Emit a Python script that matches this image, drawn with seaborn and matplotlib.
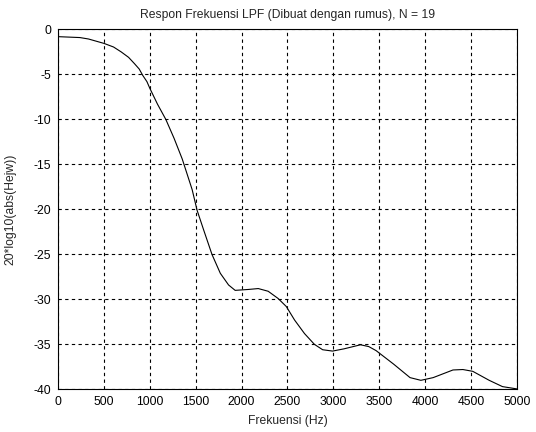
import numpy as np
import pandas as pd
import matplotlib
matplotlib.use('Agg')
import matplotlib.pyplot as plt
import seaborn as sns

# nilai (Hz, dB)
frek = [0, 237, 331, 500, 604, 688, 768, 832, 884, 922, 968, 1000, 1083,
        1174, 1264, 1353, 1461, 1515, 1587, 1677, 1768, 1858, 1930, 2074,
        2182, 2290, 2398, 2488, 2578, 2686, 2794, 2884, 2992, 3117, 3297,
        3387, 3467, 3658, 3837, 3955, 4089, 4305, 4413, 4521, 4700, 4845,
        5000]
mag_db = [-0.8, -0.9, -1.06, -1.55, -1.95, -2.5, -3.1, -3.8, -4.4, -5.1,
          -5.8, -6.55, -8.3, -10.0, -12.1, -14.4, -17.8, -20.1, -22.3,
          -25.0, -27.1, -28.4, -29.0, -28.9, -28.8, -29.1, -29.9, -30.8,
          -32.3, -33.8, -35.0, -35.6, -35.75, -35.5, -35.05, -35.25, -35.7,
          -37.2, -38.7, -39.0, -38.7, -37.85, -37.8, -38.0, -39.0, -39.7,
          -39.95]
xticks = [0, 500, 1000, 1500, 2000, 2500, 3000, 3500, 4000, 4500, 5000]
yticks = [0, -5, -10, -15, -20, -25, -30, -35, -40]

df = pd.DataFrame({'f': frek, 'H': mag_db})

sns.set_style('white')
plt.rcParams['font.family'] = ['Liberation Sans', 'DejaVu Sans']
plt.rcParams['font.size'] = 8.5
plt.rcParams['axes.unicode_minus'] = False

fig = plt.figure(figsize=(5.36, 4.32), dpi=100)
ax = fig.add_axes([0.1085, 0.0988, 0.8555, 0.8330])

sns.lineplot(data=df, x='f', y='H', ax=ax, color='black', linewidth=0.8)

ax.set_xlim(0, 5000)
ax.set_ylim(-40, 0)
ax.set_xticks(xticks)
ax.set_yticks(yticks)
ax.grid(True, color='black', linestyle=(0, (3, 3)), linewidth=0.8)
for s in ax.spines.values():
    s.set_color('black')
    s.set_linewidth(0.8)
ax.tick_params(direction='in', length=2, colors='black', labelsize=8.7, pad=5)

ax.set_title('Respon Frekuensi LPF (Dibuat dengan rumus), N = 19', fontsize=8.7, pad=8)
ax.set_xlabel('Frekuensi (Hz)', fontsize=8.7, labelpad=5)
ax.set_ylabel('20*log10(abs(Hejw))', fontsize=8.7, labelpad=12)

fig.savefig('out.png', dpi=100)
